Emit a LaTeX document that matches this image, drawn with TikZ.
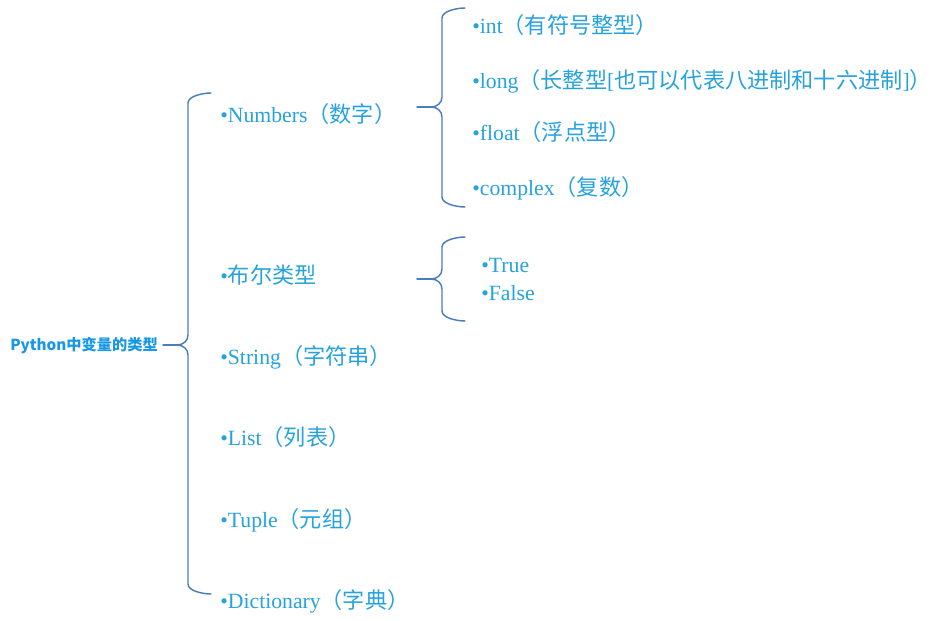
\documentclass[tikz,border=0pt]{standalone}
\usepackage{fontspec}
\setmainfont{Liberation Serif}
\newfontfamily\cjk[Scale=1.02]{Noto Sans CJK SC}
\definecolor{itemblue}{RGB}{38,162,220}
\definecolor{rootblue}{RGB}{22,152,230}
\definecolor{bracecol}{RGB}{74,126,187}
\begin{document}
\begin{tikzpicture}[x=0.75pt,y=-0.75pt,
  item/.style={anchor=base west, inner sep=0pt, text=itemblue, font=\fontsize{16.3}{19}\selectfont},
  brace/.style={draw=bracecol, line width=1.1pt, line join=round, line cap=round}]
  \useasboundingbox (0,0) rectangle (932,621);
  % root label
  \node[anchor=base west, inner sep=0pt, text=rootblue, font=\cjk\bfseries\fontsize{11.2}{14}\selectfont] (root) at (10,350) {Python中变量的类型};
  % first level items
  \foreach \nm/\yy/\txt in {num/122/{•Numbers{\cjk（数字）}}, bool/283/{•{\cjk 布尔类型}},
      str/364/{•String{\cjk（字符串）}}, lst/445/{•List{\cjk（列表）}},
      tup/527/{•Tuple{\cjk（元组）}}, dct/608/{•Dictionary{\cjk（字典）}}}
    \node[item] (\nm) at (220,\yy) {\txt};
  % kinds of numbers
  \foreach \nm/\yy/\txt in {int/33/{•int{\cjk（有符号整型）}},
      long/88/{•long{\cjk（长整型}[{\cjk 也可以代表八进制和十六进制}]{\cjk）}},
      flt/140/{•float{\cjk（浮点型）}}, cpx/195/{•complex{\cjk（复数）}}}
    \node[item] (\nm) at (472,\yy) {\txt};
  % boolean values
  \node[item] (true) at (481,272) {•True};
  \node[item] (false) at (481,300) {•False};
  % braces: tip x / tip y / top / bottom
  \foreach \bx/\by/\bt/\bb in {163/345/93/594, 417/107/8/207, 417/279/237/321} {
    \draw[brace] (\bx,\by) -- ({\bx+14},\by);
    \draw[brace] ({\bx+48},\bt) .. controls +(-8,0) and +(0,-7) .. ({\bx+25},{\bt+10})
      -- ({\bx+25},{\by-10}) .. controls +(0,6) and +(6,0) .. ({\bx+14},\by)
      .. controls +(6,0) and +(0,-6) .. ({\bx+25},{\by+10})
      -- ({\bx+25},{\bb-10}) .. controls +(0,7) and +(-8,0) .. ({\bx+48},\bb);
  }
\end{tikzpicture}
\end{document}
